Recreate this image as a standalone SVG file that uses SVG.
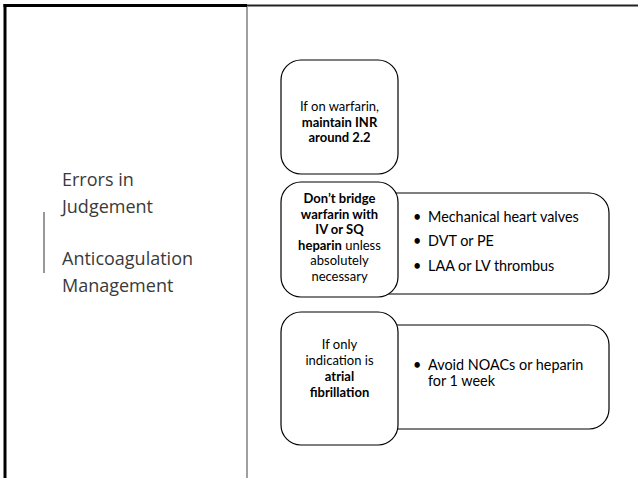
<svg xmlns="http://www.w3.org/2000/svg" width="638" height="478" viewBox="0 0 638 478">
  <style>
    .title { font-family: "Open Sans", "Noto Sans", sans-serif; font-size: 18px; fill: #3a3a3a; }
    .box { fill: #ffffff; stroke: #000000; stroke-width: 1.2; }
    .lbl { font-family: Lato, "Liberation Sans", sans-serif; font-size: 13px; fill: #000000; text-anchor: middle; }
    .item { font-family: Lato, "Liberation Sans", sans-serif; font-size: 14.4px; fill: #000000; }
    .b { font-weight: bold; }
  </style>

  <!-- frame -->
  <g id="frame">
    <rect x="0" y="0" width="638" height="478" fill="#ffffff"/>
    <line x1="247" y1="5.5" x2="638" y2="5.5" stroke="#222222" stroke-width="2"/>
    <line x1="3.5" y1="5.5" x2="247" y2="5.5" stroke="#000000" stroke-width="3"/>
    <line x1="5" y1="4" x2="5" y2="478" stroke="#000000" stroke-width="3"/>
    <line x1="247" y1="7" x2="247" y2="478" stroke="#808080" stroke-width="1.5"/>
    <line x1="44" y1="212" x2="44" y2="273" stroke="#333333" stroke-width="1"/>
  </g>

  <!-- title -->
  <g id="title">
    <text class="title" x="62" y="186">Errors in</text>
    <text class="title" x="62" y="213">Judgement</text>
    <text class="title" x="62" y="265">Anticoagulation</text>
    <text class="title" x="62" y="292">Management</text>
  </g>

  <g id="connectors"></g>

  <!-- step 1 -->
  <g id="step1">
    <rect class="box" x="281" y="60" width="117" height="114" rx="20"/>
    <text class="lbl" x="339.5" y="111">If on warfarin,</text>
    <text class="lbl b" x="339.5" y="126.5">maintain INR</text>
    <text class="lbl b" x="339.5" y="142">around 2.2</text>
  </g>

  <!-- step 2 -->
  <g id="step2-detail">
    <rect class="box" x="370" y="193" width="239" height="101" rx="20"/>
    <text class="item" x="413" y="222">•</text>
    <text class="item" x="428" y="222">Mechanical heart valves</text>
    <text class="item" x="413" y="246">•</text>
    <text class="item" x="428" y="246">DVT or PE</text>
    <text class="item" x="413" y="271">•</text>
    <text class="item" x="428" y="271">LAA or LV thrombus</text>
  </g>
  <g id="step2">
    <rect class="box" x="281" y="182" width="117" height="115" rx="20"/>
    <text class="lbl b" x="339.5" y="203">Don’t bridge</text>
    <text class="lbl b" x="339.5" y="218.5">warfarin with</text>
    <text class="lbl b" x="339.5" y="234">IV or SQ</text>
    <text class="lbl" x="339.5" y="249.5"><tspan class="b">heparin</tspan> unless</text>
    <text class="lbl" x="339.5" y="265">absolutely</text>
    <text class="lbl" x="339.5" y="280.5">necessary</text>
  </g>

  <!-- step 3 -->
  <g id="step3-detail">
    <rect class="box" x="370" y="325" width="239" height="104" rx="20"/>
    <text class="item" x="413" y="370">•</text>
    <text class="item" x="428" y="370">Avoid NOACs or heparin</text>
    <text class="item" x="428" y="386">for 1 week</text>
  </g>
  <g id="step3">
    <rect class="box" x="281" y="312" width="117" height="133" rx="20"/>
    <text class="lbl" x="339.5" y="349">If only</text>
    <text class="lbl" x="339.5" y="365">indication is</text>
    <text class="lbl b" x="339.5" y="381">atrial</text>
    <text class="lbl b" x="339.5" y="397">fibrillation</text>
  </g>
</svg>
